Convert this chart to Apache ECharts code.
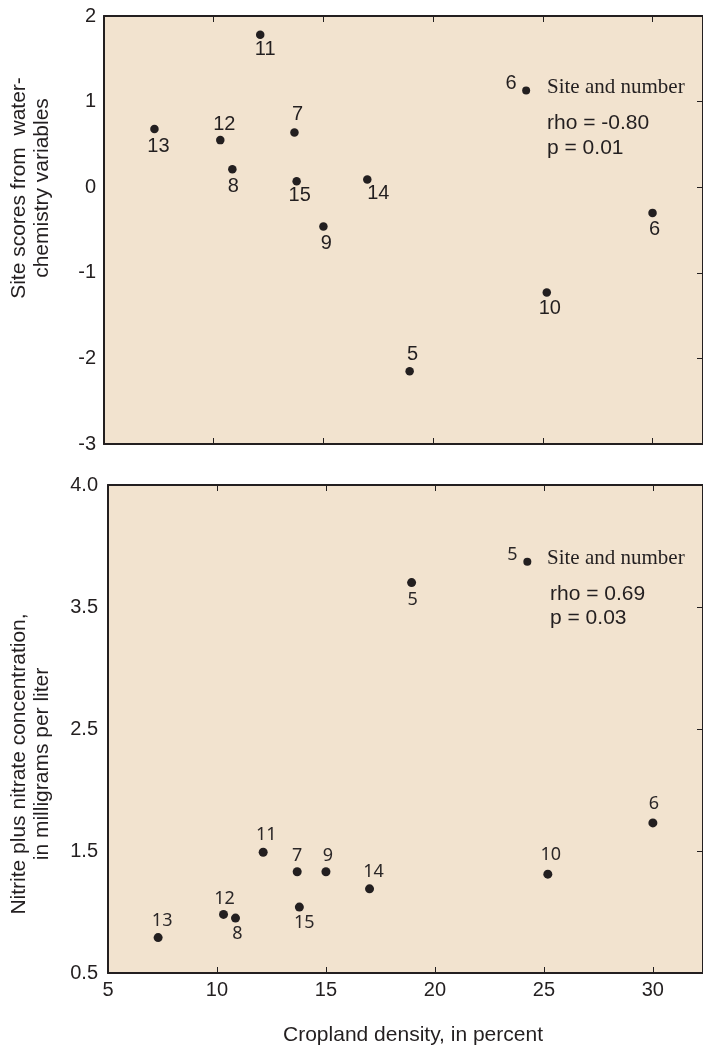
<!DOCTYPE html>
<html>
<head>
<meta charset="utf-8">
<script src="https://cdn.jsdelivr.net/npm/echarts@6/dist/echarts.min.js"></script>
<style>
  html, body { margin: 0; padding: 0; background: #fff; }
  #chart { width: 703px; height: 1049px; }
</style>
</head>
<body>
<div id="chart"></div>
<script>
// site data
const sites = ['5', '6', '7', '8', '9', '10', '11', '12', '13', '14', '15'];
const croplandDensity = [18.93, 30.0, 13.68, 10.85, 15.0, 25.18, 12.12, 10.3, 7.3, 17.0, 13.78];
const siteScores = [-2.15, -0.30, 0.64, 0.21, -0.46, -1.23, 1.78, 0.55, 0.68, 0.09, 0.07];
const nitrate = [3.70, 1.73, 1.33, 0.95, 1.33, 1.31, 1.49, 0.98, 0.79, 1.19, 1.04];

const xTicks = [5, 10, 15, 20, 25, 30];
const scoreTicks = [-3, -2, -1, 0, 1, 2];
const nitrateTicks = [0.5, 1.5, 2.5, 3.5, 4.5];
const nitrateTickLabels = ['0.5', '1.5', '2.5', '3.5', '4.0'];

// key symbol ("Site and number") in each panel: [site, x, y]
const keyTop = ['6', 24.24, 1.13];
const keyBottom = ['5', 24.24, 3.87];

const ink = '#231f20';
const fill = '#f2e3cf';
const sans = '"Liberation Sans", Arial, sans-serif';

// label placement next to each dot
const topOffsets = {
  '5': [3, -17], '6': [2, 17], '7': [3, -18], '8': [1, 17], '9': [3, 17], '10': [3, 16],
  '11': [5, 15], '12': [4, -16], '13': [4, 17], '14': [11, 14], '15': [3, 14],
};
const bottomOffsets = {
  '5': [1, 17], '6': [1, -19], '7': [0, -16], '8': [2, 16], '9': [2, -16], '10': [3, -19],
  '11': [3, -17], '12': [1, -16], '13': [4, -17], '14': [4, -17], '15': [5, 16],
};

function points(ys, offsets) {
  return sites.map((s, i) => ({
    name: s,
    value: [croplandDensity[i], ys[i]],
    label: { offset: offsets[s] },
  }));
}

const chart = echarts.init(document.getElementById('chart'));

const xBase = {
  type: 'value',
  min: 5,
  max: 32.3,
  interval: 5,
  splitLine: { show: false },
  axisLine: { show: true, onZero: false, lineStyle: { color: ink, width: 2 } },
  axisTick: { show: true, inside: true, length: 6, lineStyle: { color: ink, width: 1 } },
  axisLabel: { show: false },
};
const yBase = {
  type: 'value',
  splitLine: { show: false },
  axisLine: { show: true, onZero: false, lineStyle: { color: ink, width: 2 } },
  axisTick: { show: false },
  axisLabel: { show: false },
};
const rightTicks = { show: true, inside: true, length: 6, lineStyle: { color: ink, width: 1 } };

const dot = { color: ink, opacity: 1 };
const topLabel = { show: true, position: 'inside', formatter: '{b}', color: ink, fontFamily: sans, fontSize: 20 };
const bottomLabel = { show: true, position: 'inside', formatter: '{b}', color: '#2b2728', fontFamily: '"Noto Sans", sans-serif', fontSize: 18 };

const option = {
  animation: false,
  grid: [
    { left: 104, top: 16, width: 602.5, height: 428, show: true, backgroundColor: fill, borderWidth: 0 },
    { left: 108, top: 485, width: 596.8, height: 488, show: true, backgroundColor: fill, borderWidth: 0 },
  ],
  xAxis: [
    Object.assign({}, xBase, { gridIndex: 0, position: 'bottom' }),
    Object.assign({}, xBase, { gridIndex: 0, position: 'top' }),
    Object.assign({}, xBase, {
      gridIndex: 1,
      position: 'bottom',
      axisLabel: {
        show: true,
        margin: 7,
        color: ink,
        fontFamily: sans,
        fontSize: 20,
        showMaxLabel: false,
        formatter: (v) => (xTicks.includes(v) ? String(v) : ''),
      },
    }),
    Object.assign({}, xBase, { gridIndex: 1, position: 'top' }),
  ],
  yAxis: [
    Object.assign({}, yBase, {
      gridIndex: 0,
      position: 'left',
      min: -3,
      max: 2,
      interval: 1,
      axisLabel: {
        show: true,
        margin: 8,
        color: ink,
        fontFamily: sans,
        fontSize: 20,
        formatter: (v) => (scoreTicks.includes(v) ? String(v) : ''),
      },
    }),
    Object.assign({}, yBase, { gridIndex: 0, position: 'right', min: -3, max: 2, interval: 1, axisTick: rightTicks }),
    Object.assign({}, yBase, {
      gridIndex: 1,
      position: 'left',
      min: 0.5,
      max: 4.5,
      interval: 1,
      axisLabel: {
        show: true,
        margin: 10,
        color: ink,
        fontFamily: sans,
        fontSize: 20,
        formatter: (v) => {
          const i = nitrateTicks.findIndex((t) => Math.abs(t - v) < 1e-6);
          return i >= 0 ? nitrateTickLabels[i] : '';
        },
      },
    }),
    Object.assign({}, yBase, { gridIndex: 1, position: 'right', min: 0.5, max: 4.5, interval: 1, axisTick: rightTicks }),
  ],
  series: [
    {
      type: 'scatter',
      xAxisIndex: 0,
      yAxisIndex: 0,
      symbolSize: 8.5,
      itemStyle: dot,
      label: topLabel,
      data: points(siteScores, topOffsets),
    },
    {
      type: 'scatter',
      xAxisIndex: 0,
      yAxisIndex: 0,
      symbolSize: 8,
      itemStyle: dot,
      label: Object.assign({}, topLabel, { offset: [-15, -7] }),
      data: [{ name: keyTop[0], value: [keyTop[1], keyTop[2]] }],
    },
    {
      type: 'scatter',
      xAxisIndex: 2,
      yAxisIndex: 2,
      symbolSize: 9,
      itemStyle: dot,
      label: bottomLabel,
      data: points(nitrate, bottomOffsets),
    },
    {
      type: 'scatter',
      xAxisIndex: 2,
      yAxisIndex: 2,
      symbolSize: 8,
      itemStyle: dot,
      label: Object.assign({}, bottomLabel, { offset: [-15, -7] }),
      data: [{ name: keyBottom[0], value: [keyBottom[1], keyBottom[2]] }],
    },
  ],
  graphic: [
    { type: 'text', x: 547, y: 87, style: { text: 'Site and number', fill: ink, font: '21px "Liberation Serif", "Times New Roman", serif', align: 'left', verticalAlign: 'middle' } },
    { type: 'text', x: 547, y: 123, style: { text: 'rho = -0.80', fill: ink, font: '21px ' + sans, align: 'left', verticalAlign: 'middle' } },
    { type: 'text', x: 547, y: 148, style: { text: 'p = 0.01', fill: ink, font: '21px ' + sans, align: 'left', verticalAlign: 'middle' } },
    { type: 'text', x: 547, y: 558, style: { text: 'Site and number', fill: ink, font: '21px "Liberation Serif", "Times New Roman", serif', align: 'left', verticalAlign: 'middle' } },
    { type: 'text', x: 550, y: 594, style: { text: 'rho = 0.69', fill: ink, font: '21px ' + sans, align: 'left', verticalAlign: 'middle' } },
    { type: 'text', x: 550, y: 618, style: { text: 'p = 0.03', fill: ink, font: '21px ' + sans, align: 'left', verticalAlign: 'middle' } },
    {
      type: 'text', x: 31, y: 188, rotation: Math.PI / 2,
      style: { text: 'Site scores from  water-\nchemistry variables', fill: ink, font: '21px ' + sans, lineHeight: 23, align: 'center', verticalAlign: 'middle' },
    },
    {
      type: 'text', x: 31, y: 764, rotation: Math.PI / 2,
      style: { text: 'Nitrite plus nitrate concentration,\nin milligrams per liter', fill: ink, font: '21px ' + sans, lineHeight: 23, align: 'center', verticalAlign: 'middle' },
    },
    { type: 'text', x: 413, y: 1035, style: { text: 'Cropland density, in percent', fill: ink, font: '21px ' + sans, align: 'center', verticalAlign: 'middle' } },
  ],
};

chart.setOption(option);
</script>
</body>
</html>
